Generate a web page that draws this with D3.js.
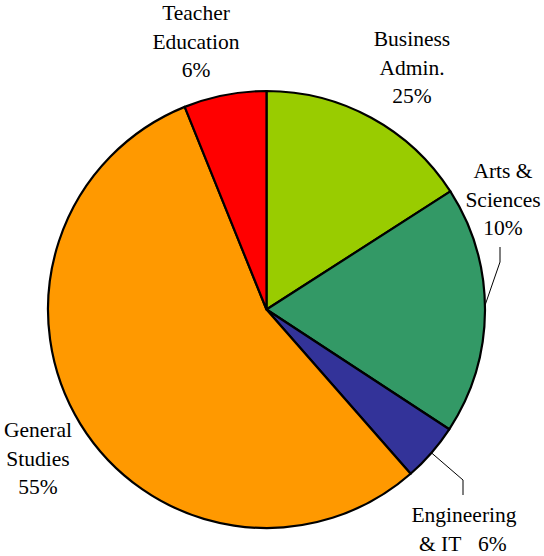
<!DOCTYPE html>
<html>
<head>
<meta charset="utf-8">
<script src="https://cdn.jsdelivr.net/npm/d3@7"></script>
<style>
  body { margin: 0; background: #fff; }
</style>
</head>
<body>
<script>
// slice order runs clockwise from 12 o'clock
var categories = ["Business Admin.", "Arts & Sciences", "Engineering & IT", "General Studies", "Teacher Education"];
// slice sizes as drawn (share of the circle)
var sliceValues = [15.9, 18.3, 4.3, 55.3, 6.1];
// percentages as printed on the labels
var labelPercents = ["25%", "10%", "6%", "55%", "6%"];
var colors = ["#99CC00", "#339966", "#333399", "#FF9900", "#FF0000"];

var w = 544, h = 556;
var cx = 266.5, cy = 309.5, radius = 218.5;
var lineH = 28.5;

// label text lines per category
var labelLines = [
  ["Business", "Admin.", labelPercents[0]],
  ["Arts &", "Sciences", labelPercents[1]],
  ["Engineering", "& IT"],
  ["General", "Studies", labelPercents[3]],
  ["Teacher", "Education", labelPercents[4]]
];

// where each label block sits (center x, first baseline)
var labelAt = [
  { x: 412, y: 46 },
  { x: 503, y: 178 },
  { x: 464, y: 522 },
  { x: 38, y: 437 },
  { x: 196, y: 20 }
];

var svg = d3.select("body").append("svg")
  .attr("width", w)
  .attr("height", h);

var pie = d3.pie().sort(null).value(function(d) { return d; });
var arcs = pie(sliceValues);

var arc = d3.arc().innerRadius(0).outerRadius(radius);

var g = svg.append("g").attr("transform", "translate(" + cx + "," + cy + ")");

g.selectAll("path")
  .data(arcs)
  .enter().append("path")
    .attr("d", arc)
    .attr("fill", function(d, i) { return colors[i]; })
    .attr("stroke", "#000")
    .attr("stroke-width", 2.2)
    .attr("stroke-linejoin", "round");

// leader lines for the two labels placed away from their slice
function edgePoint(i, frac) {
  var a = arcs[i].startAngle + (arcs[i].endAngle - arcs[i].startAngle) * frac;
  return [cx + radius * Math.sin(a), cy - radius * Math.cos(a)];
}

var leaders = [
  [edgePoint(1, 0.48), [500, 262], [500, 247]],
  [edgePoint(2, 0.50), [463, 480], [463, 495]]
];

svg.selectAll("polyline.leader")
  .data(leaders)
  .enter().append("polyline")
    .attr("class", "leader")
    .attr("points", function(d) { return d.map(function(p) { return p.join(","); }).join(" "); })
    .attr("fill", "none")
    .attr("stroke", "#000")
    .attr("stroke-width", 1);

// one text element per label line
var lines = [];
labelLines.forEach(function(ls, i) {
  ls.forEach(function(t, j) {
    lines.push({ text: t, x: labelAt[i].x, y: labelAt[i].y + j * lineH, anchor: "middle" });
  });
});
// "& IT   6%" line: the percentage sits apart from the name
lines.forEach(function(l) {
  if (l.text === "& IT") { l.x = 419; l.anchor = "start"; }
});
lines.push({ text: labelPercents[2], x: 478, y: labelAt[2].y + lineH, anchor: "start" });

svg.selectAll("text.lbl")
  .data(lines)
  .enter().append("text")
    .attr("class", "lbl")
    .style("font-family", "\"Liberation Serif\"")
    .style("font-size", "21.5px")
    .attr("fill", "#000")
    .attr("text-anchor", function(d) { return d.anchor; })
    .attr("x", function(d) { return d.x; })
    .attr("y", function(d) { return d.y; })
    .text(function(d) { return d.text; });
</script>
</body>
</html>
